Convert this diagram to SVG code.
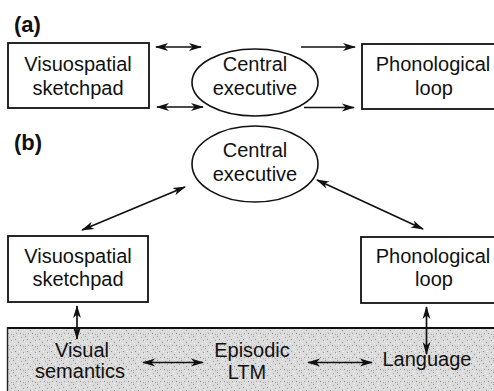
<svg xmlns="http://www.w3.org/2000/svg" width="494" height="391" viewBox="0 0 494 391">
  <style>
    .box { fill: #ffffff; stroke: #111111; stroke-width: 1.8; }
    .ell { fill: #ffffff; stroke: #111111; stroke-width: 1.6; }
    .t { font-family: "Liberation Sans", Arial, sans-serif; font-size: 20px; fill: #111111; text-anchor: middle; }
    .lbl { font-family: "Liberation Sans", Arial, sans-serif; font-size: 22px; font-weight: bold; fill: #111111; }
    .conn line { stroke: #111111; stroke-width: 1.7; }
  </style>
  <defs>
    <marker id="ah" viewBox="0 0 13 9" refX="12" refY="4.5" markerWidth="13" markerHeight="9" orient="auto-start-reverse" markerUnits="userSpaceOnUse">
      <path d="M0,0.6 L13,4.5 L0,8.4 L3.5,4.5 z" fill="#111111"/>
    </marker>
    <pattern id="stip" width="12" height="12" patternUnits="userSpaceOnUse">
      <rect width="12" height="12" fill="#dbdbdb"/>
      <rect x="1" y="0" width="1" height="1" fill="#9a9a9a"/>
      <rect x="5" y="1" width="1" height="1" fill="#f4f4f4"/>
      <rect x="9" y="1" width="1" height="1" fill="#a8a8a8"/>
      <rect x="3" y="3" width="1" height="1" fill="#8e8e8e"/>
      <rect x="7" y="3" width="1" height="1" fill="#ffffff"/>
      <rect x="11" y="4" width="1" height="1" fill="#9c9c9c"/>
      <rect x="0" y="5" width="1" height="1" fill="#f0f0f0"/>
      <rect x="6" y="6" width="1" height="1" fill="#979797"/>
      <rect x="2" y="7" width="1" height="1" fill="#ffffff"/>
      <rect x="10" y="7" width="1" height="1" fill="#f2f2f2"/>
      <rect x="4" y="9" width="1" height="1" fill="#a2a2a2"/>
      <rect x="8" y="9" width="1" height="1" fill="#8f8f8f"/>
      <rect x="1" y="10" width="1" height="1" fill="#b0b0b0"/>
      <rect x="6" y="11" width="1" height="1" fill="#fafafa"/>
      <rect x="11" y="10" width="1" height="1" fill="#a5a5a5"/>
    </pattern>
  </defs>

  <rect width="494" height="391" fill="#ffffff"/>

  <text class="lbl" x="14" y="32">(a)</text>
  <text class="lbl" x="14" y="150">(b)</text>

  <g id="ltm-band">
    <rect x="7" y="328" width="500" height="80" fill="url(#stip)"/>
    <line x1="7" y1="328" x2="494" y2="328" stroke="#111111" stroke-width="2"/>
    <line x1="7.5" y1="327" x2="7.5" y2="391" stroke="#222222" stroke-width="1.4"/>
  </g>

  <g id="a-visuospatial">
    <rect class="box" x="8" y="43" width="141" height="65"/>
    <text class="t" x="78" y="71">Visuospatial</text>
    <text class="t" x="78" y="95">sketchpad</text>
  </g>
  <g id="a-central">
    <ellipse class="ell" cx="255" cy="82.5" rx="63" ry="33.5"/>
    <text class="t" x="255" y="71">Central</text>
    <text class="t" x="255" y="95">executive</text>
  </g>
  <g id="a-phonological">
    <rect class="box" x="362" y="44" width="140" height="65"/>
    <text class="t" x="433" y="71">Phonological</text>
    <text class="t" x="434" y="95">loop</text>
  </g>

  <g id="b-central">
    <ellipse class="ell" cx="255" cy="164" rx="63" ry="38"/>
    <text class="t" x="255" y="157">Central</text>
    <text class="t" x="255" y="181">executive</text>
  </g>
  <g id="b-visuospatial">
    <rect class="box" x="8" y="236" width="140" height="66"/>
    <text class="t" x="78" y="263">Visuospatial</text>
    <text class="t" x="78" y="286">sketchpad</text>
  </g>
  <g id="b-phonological">
    <rect class="box" x="361" y="237" width="140" height="66"/>
    <text class="t" x="433" y="263">Phonological</text>
    <text class="t" x="434" y="286">loop</text>
  </g>
  <g id="visual-semantics">
    <text class="t" x="82" y="357">Visual</text>
    <text class="t" x="80" y="378">semantics</text>
  </g>
  <g id="episodic-ltm">
    <text class="t" x="252" y="357">Episodic</text>
    <text class="t" x="247" y="379">LTM</text>
  </g>
  <g id="language">
    <text class="t" x="427" y="366">Language</text>
  </g>

  <g class="conn" id="connectors">
    <line x1="156" y1="47" x2="201" y2="47" marker-start="url(#ah)" marker-end="url(#ah)"/>
    <line x1="157" y1="107" x2="203" y2="107" marker-start="url(#ah)" marker-end="url(#ah)"/>
    <line x1="301" y1="47" x2="355" y2="47" marker-end="url(#ah)"/>
    <line x1="304" y1="107.5" x2="354" y2="107.5" marker-end="url(#ah)"/>
    <line x1="185" y1="187" x2="82" y2="230" marker-start="url(#ah)" marker-end="url(#ah)"/>
    <line x1="317" y1="180" x2="423" y2="229" marker-start="url(#ah)" marker-end="url(#ah)"/>
    <line x1="77" y1="306" x2="77" y2="339" marker-start="url(#ah)" marker-end="url(#ah)"/>
    <line x1="426.5" y1="307" x2="426.5" y2="354" marker-start="url(#ah)" marker-end="url(#ah)"/>
    <line x1="143" y1="362.5" x2="203" y2="362.5" marker-start="url(#ah)" marker-end="url(#ah)"/>
    <line x1="308" y1="362.5" x2="372" y2="362.5" marker-start="url(#ah)" marker-end="url(#ah)"/>
  </g>
</svg>
